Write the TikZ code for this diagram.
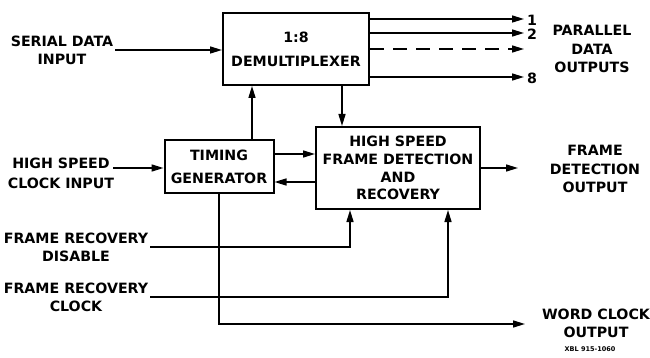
\documentclass[tikz,border=0pt]{standalone}
\usepackage{fontspec}
\setmainfont{DejaVu Sans}
\usetikzlibrary{arrows.meta,calc}
\begin{document}
\begin{tikzpicture}[x=1pt,y=-1pt,
  lab/.style={font=\bfseries\fontsize{14.2}{18.5}\selectfont, align=center, inner sep=2pt},
  blk/.style={draw, line width=2pt, align=center, inner sep=0pt},
  conn/.style={line width=1.5pt, -{Triangle[length=12pt,width=7pt]}}]
\useasboundingbox (0,0) rectangle (650,358);
% blocks
\node[blk, minimum width=146pt, minimum height=72pt, font=\bfseries\fontsize{14.2}{24}\selectfont] (demux) at (296,49) {1:8\\DEMULTIPLEXER};
\node[blk, minimum width=109pt, minimum height=53pt, font=\bfseries\fontsize{14.2}{23}\selectfont] (timing) at (219,166.5) {TIMING\\GENERATOR};
\node[blk, minimum width=164pt, minimum height=82pt, font=\bfseries\fontsize{14.2}{17.7}\selectfont] (frame) at (398,168) {HIGH SPEED\\FRAME DETECTION\\AND\\RECOVERY};
% left labels
\node[lab, font=\bfseries\fontsize{14.2}{18}\selectfont] (serial) at (62,50) {SERIAL DATA\\INPUT};
\node[lab, font=\bfseries\fontsize{14.2}{20}\selectfont] (hsclk) at (61,173) {HIGH SPEED\\CLOCK INPUT};
\node[lab, font=\bfseries\fontsize{14.2}{18}\selectfont] (frd) at (76,247) {FRAME RECOVERY\\DISABLE};
\node[lab, font=\bfseries\fontsize{14.2}{18}\selectfont] (frc) at (76,297) {FRAME RECOVERY\\CLOCK};
% right labels
\node[lab] (par) at (592,49) {PARALLEL\\DATA\\OUTPUTS};
\node[lab] (fdo) at (595,169) {FRAME\\DETECTION\\OUTPUT};
\node[lab, font=\bfseries\fontsize{14.2}{17.5}\selectfont] (wco) at (596,323.5) {WORD CLOCK\\OUTPUT};
\node[font=\bfseries\fontsize{6.5}{8}\selectfont, inner sep=0pt] (xbl) at (590,349) {XBL 915-1060};
% output numbers
\node[lab, anchor=west, inner sep=0pt] (n1) at (527,20) {1};
\node[lab, anchor=west, inner sep=0pt] (n2) at (527,34) {2};
\node[lab, anchor=west, inner sep=0pt] (n8) at (527,78) {8};
% coordinates
\coordinate (o1) at (524,19);
\coordinate (o2) at (524,33);
\coordinate (o3) at (524,49);
\coordinate (o8) at (524,77);
\coordinate (hsin) at (113,168);
\coordinate (fout) at (518,168);
\coordinate (wout) at (525,324);
\coordinate (tup) at ([xshift=33pt]timing.north);
\coordinate (ddown) at ([xshift=120pt]demux.south west);
\coordinate (t1) at ([yshift=12.5pt]timing.east);
\coordinate (t2) at ([yshift=-15.5pt]timing.east);
\coordinate (fin1) at ([xshift=35pt]frame.south west);
\coordinate (fin2) at ([xshift=133pt]frame.south west);
% connectors
\draw[conn] (serial.east) -- (serial.east -| demux.west);
\draw[conn] (o1 -| demux.east) -- (o1);
\draw[conn] (o2 -| demux.east) -- (o2);
\draw[conn, dash pattern=on 14pt off 9pt] (o3 -| demux.east) -- (o3);
\draw[conn] (o8 -| demux.east) -- (o8);
\draw[conn] (hsin) -- (hsin -| timing.west);
\draw[conn] (tup) -- (tup |- demux.south);
\draw[conn] (ddown) -- (ddown |- frame.north);
\draw[conn] (t1) -- (t1 -| frame.west);
\draw[conn] (t2 -| frame.west) -- (t2);
\draw[conn] (frame.east) -- (fout);
\draw[conn] (frd.east) -| (fin1);
\draw[conn] (frc.east) -| (fin2);
\draw[conn] (timing.south) |- (wout);
\end{tikzpicture}
\end{document}
